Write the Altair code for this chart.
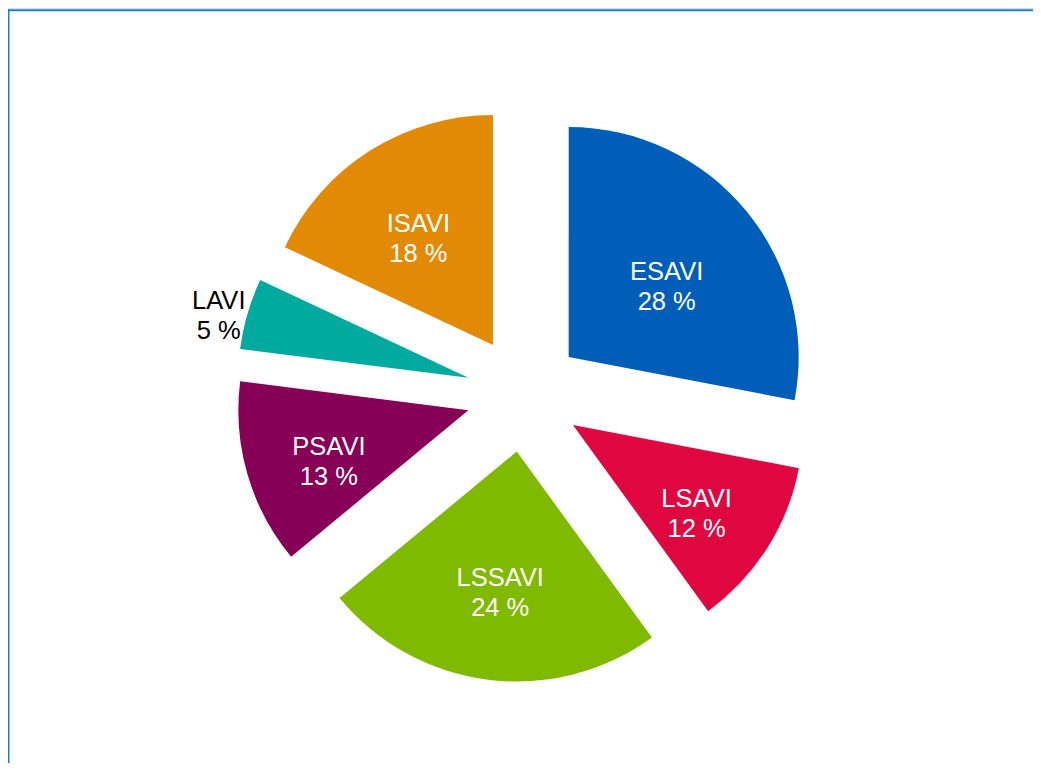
import altair as alt
import pandas as pd

# Slices, clockwise from 12 o'clock
names = ["ESAVI", "LSAVI", "LSSAVI", "PSAVI", "LAVI", "ISAVI"]
pcts = [28, 12, 24, 13, 5, 18]
colors = ["#005EB8", "#E0063F", "#80BA00", "#850056", "#00AA9F", "#E38A04"]
text_colors = ["white", "white", "white", "white", "black", "white"]

df = pd.DataFrame({
    "name": names,
    "pct": pcts,
    "tcolor": text_colors,
    "order": list(range(len(names))),
})

W, H = 1025, 755
CX, CY, R = 516, 386, 230
EXPLODE = 0.252

xs = alt.Scale(domain=[-1, 1], range=[CX - R, CX + R])
ys = alt.Scale(domain=[-1, 1], range=[CY + R, CY - R])
ts = alt.Scale(domain=[0, 100], range=[0, 6.283185307179586])

base = alt.Chart(df).transform_window(
    end="sum(pct)", sort=[alt.SortField("order")], frame=[None, 0]
).transform_calculate(
    start="datum.end - datum.pct",
    ang="(datum.end - datum.pct / 2) / 100 * 2 * PI",
    ox=f"{EXPLODE} * sin(datum.ang)",
    oy=f"{EXPLODE} * cos(datum.ang)",
    lr="datum.pct < 10 ? 1.13 : 0.6 - 0.0052 * (datum.pct - 19)",
    lx="datum.ox + datum.lr * sin(datum.ang)",
    ly="datum.oy + datum.lr * cos(datum.ang)",
    label="datum.name + '\\n' + datum.pct + ' %'",
)

arcs = base.mark_arc(outerRadius=R, innerRadius=0).encode(
    theta=alt.Theta("start:Q", scale=ts),
    theta2=alt.Theta2("end:Q"),
    x=alt.X("ox:Q", scale=xs, axis=None),
    y=alt.Y("oy:Q", scale=ys, axis=None),
    color=alt.Color("name:N", scale=alt.Scale(domain=names, range=colors), legend=None),
)

labels = base.mark_text(
    font="Liberation Sans", fontSize=25.5, lineBreak="\n", lineHeight=30,
    align="center", baseline="middle", dy=-4,
).encode(
    x=alt.X("lx:Q", scale=xs, axis=None),
    y=alt.Y("ly:Q", scale=ys, axis=None),
    text="label:N",
    color=alt.Color("tcolor:N", scale=None),
)

border = alt.Chart(df.head(1))
top_rule = border.mark_rule(stroke="#1A7FD0", strokeWidth=2).encode(
    x=alt.value(0), x2=alt.value(W), y=alt.value(2.3)
)
left_rule = border.mark_rule(stroke="#1A7FD0", strokeWidth=2).encode(
    x=alt.value(0.5), y=alt.value(1.3), y2=alt.value(H)
)

chart = alt.layer(top_rule, left_rule, arcs, labels).properties(
    width=W, height=H,
    autosize=alt.AutoSizeParams(type="none"), padding=0,
).configure_view(stroke=None).configure(background="white")

chart.save("out.html", embed_options={"renderer": "svg", "actions": False})
